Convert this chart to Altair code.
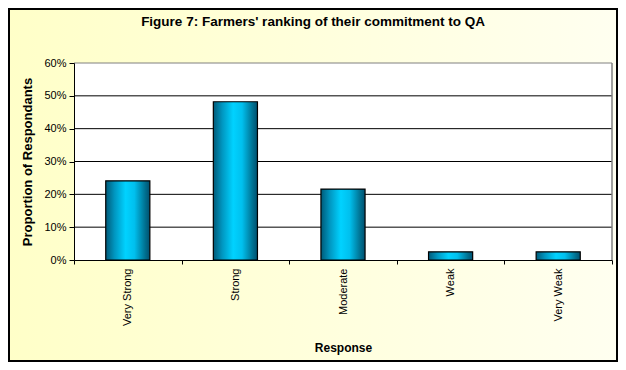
import altair as alt
import pandas as pd

categories = ["Very Strong", "Strong", "Moderate", "Weak", "Very Weak"]
values = [0.241, 0.482, 0.216, 0.025, 0.025]
y_ticks = [0, 0.1, 0.2, 0.3, 0.4, 0.5, 0.6]
title_text = ["Figure 7: Farmers' ranking of their commitment to QA"]

df = pd.DataFrame({"Response": categories, "Proportion": values})
grid_df = pd.DataFrame({"v": y_ticks[1:]})
title_df = pd.DataFrame({"t": title_text})

W, H = 538, 197
PAD = {"left": 66, "top": 55, "right": 6, "bottom": 102}

bg = alt.Chart(pd.DataFrame({"a": [0]})).mark_rect(
    color=alt.LinearGradient(
        gradient="linear", x1=0, x2=1, y1=0, y2=0,
        stops=[alt.GradientStop(color="#FFFFC8", offset=0),
               alt.GradientStop(color="#FFFFDC", offset=0.5),
               alt.GradientStop(color="#FFFFF0", offset=1)]),
    stroke="black", strokeWidth=2
).encode(
    x=alt.value(-PAD["left"] + 1), x2=alt.value(W + PAD["right"] - 1),
    y=alt.value(-PAD["top"] + 1), y2=alt.value(H + PAD["bottom"] - 1),
)

plotbg = alt.Chart(pd.DataFrame({"a": [0]})).mark_rect(color="white").encode(
    x=alt.value(0), x2=alt.value(W), y=alt.value(0), y2=alt.value(H)
)

yscale = alt.Scale(domain=[0, 0.6], nice=False)
y_axis = alt.Axis(title="Proportion of Respondants", values=y_ticks,
                  format=".0%", labelFontSize=11,
                  labelFont="Liberation Sans", labelColor="black",
                  labelPadding=3, tickSize=5, tickColor="black",
                  domainColor="black", grid=False,
                  titleFont="Liberation Sans",
                  titleFontSize=13, titleFontWeight="bold",
                  titleColor="black", titlePadding=9, zindex=1)

grid = alt.Chart(grid_df).mark_rule(strokeWidth=1).encode(
    y=alt.Y("v:Q", scale=yscale, axis=y_axis),
    x=alt.value(0), x2=alt.value(W),
    color=alt.condition(alt.datum.v > 0.55, alt.value("#808080"), alt.value("black")),
)

right_border = alt.Chart(pd.DataFrame({"a": [0]})).mark_rule(
    color="#808080", strokeWidth=1.5
).encode(x=alt.value(W), y=alt.value(0), y2=alt.value(H))

bars = alt.Chart(df).mark_bar(
    width=alt.RelativeBandSize(0.41),
    color=alt.LinearGradient(
        gradient="linear", x1=0, x2=1, y1=0, y2=0,
        stops=[alt.GradientStop(color="#005A78", offset=0),
               alt.GradientStop(color="#0096C0", offset=0.2),
               alt.GradientStop(color="#00D2FF", offset=0.45),
               alt.GradientStop(color="#00C0EE", offset=0.65),
               alt.GradientStop(color="#006E8E", offset=0.9),
               alt.GradientStop(color="#005070", offset=1)]),
    stroke="black", strokeWidth=1.2
).encode(
    x=alt.X("Response:N", sort=categories,
            scale=alt.Scale(paddingInner=0, paddingOuter=0),
            axis=alt.Axis(title="Response", labelAngle=-90, labelAlign="right",
                          labelBaseline="middle", labelFontSize=11,
                          labelFont="Liberation Sans", labelColor="black",
                          labelPadding=4, tickBand="extent", tickSize=4,
                          tickColor="black", domainColor="black",
                          titleFont="Liberation Sans", titleFontSize=12,
                          titleFontWeight="bold", titleColor="black",
                          titlePadding=17, grid=False, zindex=1)),
    y=alt.Y("Proportion:Q", scale=yscale, axis=y_axis),
)

title = alt.Chart(title_df).mark_text(
    font="Liberation Sans", fontSize=13.5, fontWeight="bold", color="black",
    align="center", baseline="alphabetic"
).encode(text="t:N", x=alt.value(239), y=alt.value(-37))

chart = alt.layer(bg, plotbg, grid, right_border, bars, title).properties(
    width=W, height=H,
    padding=PAD,
    autosize=alt.AutoSizeParams(type="none"),
    background="white",
).configure_view(stroke=None)

chart.save("out.html", embed_options={"renderer": "svg", "actions": False})
